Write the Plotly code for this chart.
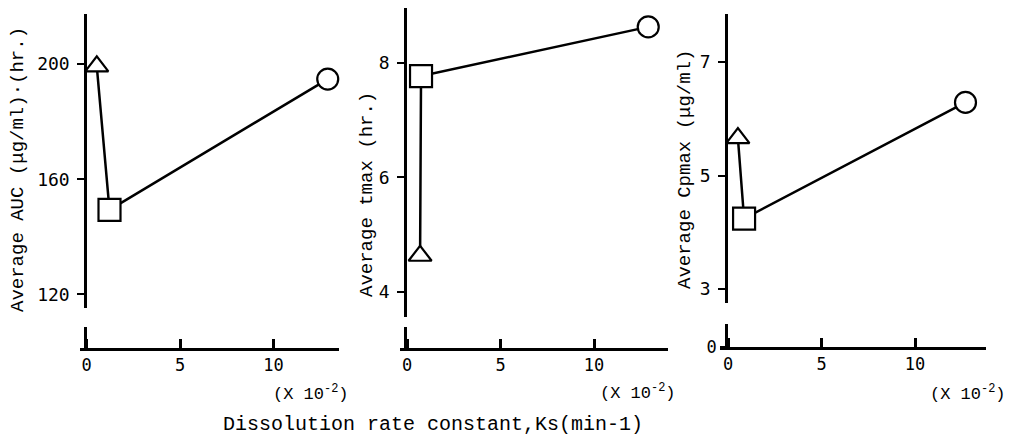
import plotly.graph_objects as go

W, H = 1020, 439

# ---- data ----
symbols = ["triangle-up", "square", "circle"]          # three formulations
marker_sizes = [20, 22, 21]

# Panel 1: Average AUC
auc_ks = [0.55, 1.23, 12.9]
auc_val = [199.2, 149.4, 194.8]
auc_ticks = [120, 160, 200]

# Panel 2: Average tmax
tmax_ks = [0.70, 0.75, 12.9]
tmax_val = [4.63, 7.77, 8.63]
tmax_ticks = [4, 6, 8]

# Panel 3: Average Cpmax
cp_ks = [0.53, 0.86, 12.7]
cp_val = [5.66, 4.24, 6.29]
cp_ticks = [3, 5, 7]

x_ticks = [0, 5, 10]

y_titles = ["Average AUC (μg/ml)·(hr.)", "Average tmax (hr.)", "Average Cpmax (μg/ml)"]
x_note = "(X 10<sup>-2</sup>)"
x_title = "Dissolution rate constant,Ks(min-1)"

# ---- layout geometry (pixels) ----
panels = [
    dict(ks=auc_ks, val=auc_val, ticks=auc_ticks, x0=80, x1=339, zero=86.5, yline=85,
         ytop=14, ybot=308, yrange=[115.3, 217.4], low=[327, 348], zero_label=False,
         title_xy=(18, 170), note_xy=(311, 393)),
    dict(ks=tmax_ks, val=tmax_val, ticks=tmax_ticks, x0=400, x1=668, zero=407, yline=405,
         ytop=8, ybot=317, yrange=[3.56, 8.96], low=[327, 348], zero_label=False,
         title_xy=(367, 195), note_xy=(638, 392)),
    dict(ks=cp_ks, val=cp_val, ticks=cp_ticks, x0=720, x1=986, zero=728, yline=726,
         ytop=14, ybot=303, yrange=[2.75, 7.85], low=[324, 347], zero_label=True,
         title_xy=(685, 170), note_xy=(968, 393)),
]
PX_PER_UNIT = 18.7

def px(x):
    return x / W

def py(y):
    return 1 - y / H

fig = go.Figure()
layout = dict(
    width=W, height=H, margin=dict(l=0, r=0, t=0, b=0, pad=0, autoexpand=False),
    paper_bgcolor="white", plot_bgcolor="white", showlegend=False,
    font=dict(family="Liberation Mono", color="black"),
)
annotations = []
ytickfont = dict(family="DejaVu Sans Mono", size=18, color="black")
xtickfont = dict(family="DejaVu Sans Mono", size=17, color="black")

for i, p in enumerate(panels):
    main = 2 * i + 1
    low = 2 * i + 2
    xr = [(p["x0"] - p["zero"]) / PX_PER_UNIT, (p["x1"] - p["zero"]) / PX_PER_UNIT]
    xdom = [px(p["x0"]), px(p["x1"])]
    xm = "xaxis" if main == 1 else f"xaxis{main}"
    ym = "yaxis" if main == 1 else f"yaxis{main}"
    layout[xm] = dict(domain=xdom, range=xr, visible=False, automargin=False,
                      anchor=f"y{main}" if main > 1 else "y")
    layout[ym] = dict(
        domain=[py(p["ybot"]), py(p["ytop"])], range=p["yrange"], anchor="free",
        position=px(p["yline"]), showline=True, linewidth=2.5, linecolor="black",
        ticks="outside", ticklen=7, tickwidth=2, tickcolor="black", automargin=False,
        tickvals=p["ticks"], tickfont=ytickfont, ticklabelstandoff=4,
        showgrid=False, zeroline=False,
    )
    layout[f"xaxis{low}"] = dict(
        domain=xdom, range=xr, anchor=f"y{low}", showline=True, linewidth=2.5,
        linecolor="black", ticks="inside", ticklen=9, tickwidth=2.5, tickcolor="black",
        tickvals=x_ticks, tickfont=xtickfont, showgrid=False, zeroline=False, automargin=False,
    )
    ylow = dict(
        domain=[py(p["low"][1]), py(p["low"][0])], range=[0, 1], anchor="free",
        position=px(p["yline"]), showline=True, linewidth=2.5, linecolor="black",
        showgrid=False, zeroline=False, tickfont=xtickfont, automargin=False,
    )
    if p["zero_label"]:
        ylow.update(tickvals=[0], ticks="outside", ticklen=5, tickwidth=2, tickcolor="black")
    else:
        ylow.update(showticklabels=False, ticks="")
    layout[f"yaxis{low}"] = ylow

    fig.add_trace(go.Scatter(
        x=p["ks"], y=p["val"], mode="lines+markers",
        xaxis="x" if main == 1 else f"x{main}", yaxis="y" if main == 1 else f"y{main}",
        line=dict(color="black", width=2.5),
        marker=dict(symbol=symbols, size=marker_sizes, color="white", opacity=1,
                    line=dict(color="black", width=2.2)),
        cliponaxis=False,
    ))
    # empty trace so that the lower (broken-axis) subplot is drawn
    fig.add_trace(go.Scatter(
        x=[None], y=[None], mode="markers", xaxis=f"x{low}", yaxis=f"y{low}",
        hoverinfo="skip",
    ))

    tx, ty = p["title_xy"]
    annotations.append(dict(x=px(tx), y=py(ty), xref="paper", yref="paper", text=y_titles[i],
                            textangle=-90, showarrow=False, font=dict(size=19),
                            xanchor="center", yanchor="middle"))
    nx, ny = p["note_xy"]
    annotations.append(dict(x=px(nx), y=py(ny), xref="paper", yref="paper", text=x_note,
                            showarrow=False, font=dict(size=17),
                            xanchor="center", yanchor="middle"))

annotations.append(dict(x=px(433), y=py(424), xref="paper", yref="paper", text=x_title,
                        showarrow=False, font=dict(size=20),
                        xanchor="center", yanchor="middle"))
layout["annotations"] = annotations
fig.update_layout(**layout)
fig.write_html("out.html")
